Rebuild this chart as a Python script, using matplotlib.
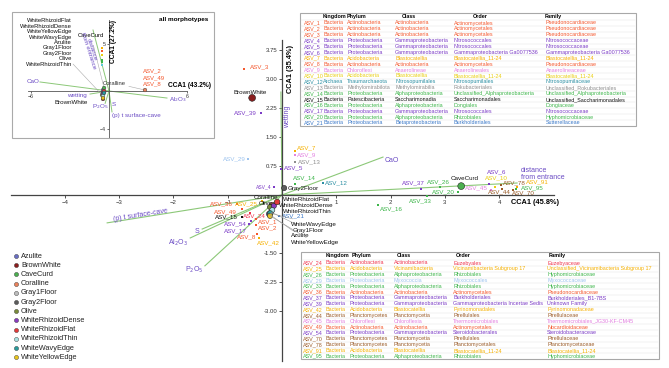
import matplotlib
matplotlib.use("Agg")
import matplotlib.pyplot as plt
from matplotlib.patches import Rectangle

plt.rcParams['font.family'] = ['Liberation Sans', 'DejaVu Sans']

W, H = 669, 368

# taxon colours
ACT = '#F4582E'   # Actinomycetales
EUZ = '#F0344E'   # Euzebyales
GAM = '#7B3BC6'   # Gammaproteobacteria
BLA = '#F5B000'   # Blastocatellia (orange-yellow)
BLY = '#E9CF10'   # Blastocatellia (yellow)
CHL = '#E27FE0'   # Chloroflexi
THA = '#2B8FA3'   # Thaumarchaeota
MET = '#8E8E8E'   # Methylomirabilota
ALP = '#3DB54A'   # Alphaproteobacteria
PAT = '#111111'   # Patescibacteria
BET = '#3A78C8'   # Betaproteobacteria
MYX = '#9DC3EE'   # Myxococcia
PLA = '#9A5B28'   # Planctomycetes
ARROW_TXT = '#6A4BC4'
ARROW_LN = '#8CC878'

# ---- main CCA (ASV scores)
asv_names = ['ASV_1', 'ASV_2', 'ASV_3', 'ASV_4', 'ASV_5', 'ASV_6', 'ASV_7', 'ASV_8', 'ASV_9',
             'ASV_10', 'ASV_12', 'ASV_13', 'ASV_14', 'ASV_15', 'ASV_16', 'ASV_17', 'ASV_20',
             'ASV_21', 'ASV_24', 'ASV_25', 'ASV_26', 'ASV_29', 'ASV_33', 'ASV_36', 'ASV_37',
             'ASV_39', 'ASV_42', 'ASV_44', 'ASV_45', 'ASV_49', 'ASV_54', 'ASV_70', 'ASV_78',
             'ASV_91', 'ASV_95']
asv_x = [-0.48, -0.48, -0.70, -0.15, -0.02, 3.81, 0.24, -0.46, 0.24,
         3.92, 0.76, 0.24, 0.24, -0.74, 1.77, -0.61, 3.24,
         -0.06, -0.59, -0.37, 2.91, -0.63, 2.67, -0.83, 2.56,
         -0.39, -0.42, 4.05, 3.85, -0.74, -0.57, 4.25, 4.03,
         4.33, 4.31]
asv_y = [-0.62, -0.78, 3.26, 0.21, 0.67, 0.28, 1.14, -1.01, 1.03,
         0.21, 0.31, 0.85, 0.28, -0.57, -0.26, -0.75, 0.08,
         -0.54, -0.47, -0.16, 0.21, 0.93, -0.03, -0.23, 0.16,
         2.12, -1.11, 0.16, 0.13, -0.36, -0.67, 0.13, 0.26,
         0.21, 0.16]
asv_cols = [ACT, ACT, ACT, GAM, GAM, GAM, BLA, ACT, CHL,
            BLY, THA, MET, ALP, PAT, ALP, GAM, ALP,
            BET, EUZ, BLA, ALP, MYX, ALP, ACT, GAM,
            GAM, BLA, PLA, CHL, ACT, GAM, PLA, PLA,
            BLA, ALP]

# ---- sites
site_names = ['Azulite', 'BrownWhite', 'CaveCurd', 'Coralline', 'Gray1Floor', 'Gray2Floor', 'Olive',
              'WhiteRhizoidDense', 'WhiteRhizoidFlat', 'WhiteRhizoidThin', 'WhiteWavyEdge',
              'WhiteYellowEdge']
site_cols = ['#6A6FC4', '#8B1E1E', '#4CAF50', '#E9825C', '#BDBDBD', '#5C5C5C', '#7A8B3A',
             '#8A3CC0', '#E23B3B', '#A9E3E3', '#2B9C9C', '#E8C51E']
site_x = [-0.24, -0.55, 3.30, -0.18, -0.20, 0.04, -0.22, -0.15, -0.09, -0.18, -0.22, -0.22]
site_y = [-0.49, 2.51, 0.23, -0.26, -0.44, 0.18, -0.31, -0.28, -0.18, -0.39, -0.47, -0.54]

# ---- environmental vectors
env_names = ['CaO', 'wetting', 'distance\nfrom entrance', '(p) t surface-cave', 'S',
             'Al$_2$O$_3$', 'P$_2$O$_5$']
env_x = [1.86, -0.02, 4.33, -3.22, -1.47, -1.69, -1.42]
env_y = [0.98, 2.66, 0.31, -0.72, -0.88, -1.11, -1.83]

# ---- inset: all morphotypes
in_site_x = [-0.46, -0.46, -0.38, 2.77, -0.38, -0.46, -0.54, -0.46, -0.38, -0.46, -0.38, -0.46]
in_site_y = [0.10, -0.84, 0.32, 0.10, -0.10, -0.21, -0.42, -0.30, 0.00, -0.52, -0.20, -0.75]
in_asv_x = [-0.54, -0.54, -0.54, -0.54, -0.54, -0.54, 2.77]
in_asv_y = [4.50, 4.20, 3.80, 3.30, 3.05, 2.75, 0.10]
in_asv_cols = [BLA, ACT, BLY, ALP, ALP, '#5BC8D8', ACT]
in_env_x = [-5.31, -1.46, -1.23, 0.23, 0.05, -0.30, 4.46]
in_env_y = [0.95, -0.32, 6.42, -2.20, -1.20, -1.30, -0.74]

# ---- taxonomy tables
top_rows = [
    ['ASV_1', 'Bacteria', 'Actinobacteria', 'Actinobacteria', 'Actinomycetales', 'Pseudonocardiaceae'],
    ['ASV_2', 'Bacteria', 'Actinobacteria', 'Actinobacteria', 'Actinomycetales', 'Pseudonocardiaceae'],
    ['ASV_3', 'Bacteria', 'Actinobacteria', 'Actinobacteria', 'Actinomycetales', 'Pseudonocardiaceae'],
    ['ASV_4', 'Bacteria', 'Proteobacteria', 'Gammaproteobacteria', 'Nitrosococcales', 'Nitrosococcaceae'],
    ['ASV_5', 'Bacteria', 'Proteobacteria', 'Gammaproteobacteria', 'Nitrosococcales', 'Nitrosococcaceae'],
    ['ASV_6', 'Bacteria', 'Proteobacteria', 'Gammaproteobacteria', 'Gammaproteobacteria Ga0077536',
     'Gammaproteobacteria Ga0077536'],
    ['ASV_7', 'Bacteria', 'Acidobacteria', 'Blastocatellia', 'Blastocatellia_11-24', 'Blastocatellia_11-24'],
    ['ASV_8', 'Bacteria', 'Actinobacteria', 'Actinobacteria', 'Actinomycetales', 'Pseudonocardiaceae'],
    ['ASV_9', 'Bacteria', 'Chloroflexi', 'Anaerolineae', 'Anaerolineales', 'Anaerolineaceae'],
    ['ASV_10', 'Bacteria', 'Acidobacteria', 'Blastocatellia', 'Blastocatellia_11-24', 'Blastocatellia_11-24'],
    ['ASV_12', 'Archaea', 'Thaumarchaeota', 'Nitrosopumilales', 'Nitrosopumilales', 'Nitrosopumilaceae'],
    ['ASV_13', 'Bacteria', 'Methylomirabilota', 'Methylomirabilia', 'Rokubacteriales',
     'Unclassified_Rokubacteriales'],
    ['ASV_14', 'Bacteria', 'Proteobacteria', 'Alphaproteobacteria', 'Unclassified_Alphaproteobacteria',
     'Unclassified_Alphaproteobacteria'],
    ['ASV_15', 'Bacteria', 'Patescibacteria', 'Saccharimonadia', 'Saccharimonadales',
     'Unclassified_Saccharimonadales'],
    ['ASV_16', 'Bacteria', 'Proteobacteria', 'Alphaproteobacteria', 'Dongiales', 'Dongiaceae'],
    ['ASV_17', 'Bacteria', 'Proteobacteria', 'Gammaproteobacteria', 'Nitrosococcales', 'Nitrosococcaceae'],
    ['ASV_20', 'Bacteria', 'Proteobacteria', 'Alphaproteobacteria', 'Rhizobiales', 'Hyphomicrobiaceae'],
    ['ASV_21', 'Bacteria', 'Proteobacteria', 'Betaproteobacteria', 'Burkholderiales', 'Sutterellaceae'],
]
top_cols = [ACT, ACT, ACT, GAM, GAM, GAM, BLA, ACT, CHL, BLY, THA, MET, ALP, PAT, ALP, GAM, ALP, BET]

bot_rows = [
    ['ASV_24', 'Bacteria', 'Actinobacteria', 'Actinobacteria', 'Euzebyales', 'Euzebyaceae'],
    ['ASV_25', 'Bacteria', 'Acidobacteria', 'Vicinamibacteria', 'Vicinamibacteria Subgroup 17',
     'Unclassified_Vicinamibacteria Subgroup 17'],
    ['ASV_26', 'Bacteria', 'Proteobacteria', 'Alphaproteobacteria', 'Rhizobiales', 'Hyphomicrobiaceae'],
    ['ASV_29', 'Bacteria', 'Proteobacteria', 'Myxococcia', 'Myxococcales', 'Myxococcaceae'],
    ['ASV_33', 'Bacteria', 'Proteobacteria', 'Alphaproteobacteria', 'Rhizobiales', 'Hyphomicrobiaceae'],
    ['ASV_36', 'Bacteria', 'Actinobacteria', 'Actinobacteria', 'Actinomycetales', 'Pseudonocardiaceae'],
    ['ASV_37', 'Bacteria', 'Proteobacteria', 'Gammaproteobacteria', 'Burkholderiales',
     'Burkholderiales_B1-7BS'],
    ['ASV_39', 'Bacteria', 'Proteobacteria', 'Gammaproteobacteria', 'Gammaproteobacteria Incertae Sedis',
     'Unknown Family'],
    ['ASV_42', 'Bacteria', 'Acidobacteria', 'Blastocatellia', 'Pyrinomonadales', 'Pyrinomonadaceae'],
    ['ASV_44', 'Bacteria', 'Planctomycetes', 'Planctomycetia', 'Pirellulales', 'Pirellulaceae'],
    ['ASV_45', 'Bacteria', 'Chloroflexi', 'Chloroflexia', 'Thermomicrobiales',
     'Thermomicrobiales_JG30-KF-CM45'],
    ['ASV_49', 'Bacteria', 'Actinobacteria', 'Actinobacteria', 'Actinomycetales', 'Nocardioidaceae'],
    ['ASV_54', 'Bacteria', 'Proteobacteria', 'Gammaproteobacteria', 'Steroidobacterales',
     'Steroidobacteraceae'],
    ['ASV_70', 'Bacteria', 'Planctomycetes', 'Planctomycetia', 'Pirellulales', 'Pirellulaceae'],
    ['ASV_78', 'Bacteria', 'Planctomycetes', 'Planctomycetia', 'Planctomycetales', 'Planctomycetaceae'],
    ['ASV_91', 'Bacteria', 'Acidobacteria', 'Blastocatellia', 'Blastocatellia_11-24', 'Blastocatellia_11-24'],
    ['ASV_95', 'Bacteria', 'Proteobacteria', 'Alphaproteobacteria', 'Rhizobiales', 'Hyphomicrobiaceae'],
]
bot_cols = [EUZ, BLA, ALP, MYX, ALP, ACT, GAM, GAM, BLA, PLA, CHL, ACT, GAM, PLA, PLA, BLA, ALP]
headers = ['Kingdom', 'Phylum', 'Class', 'Order', 'Family']

# label placement (pixels: dx, dy down, ha)
asv_lab = {
    'ASV_1': (2, 3, 'left'), 'ASV_2': (2, 3, 'left'), 'ASV_3': (6, -2, 'left'),
    'ASV_4': (-2, 0, 'right'), 'ASV_5': (3, -1, 'left'), 'ASV_6': (-2, -12, 'left'),
    'ASV_7': (2, -3, 'left'), 'ASV_8': (-1, 3, 'right'), 'ASV_9': (2, 0, 'left'),
    'ASV_10': (-10, -9, 'left'), 'ASV_12': (2, 0, 'left'), 'ASV_13': (3, 0, 'left'),
    'ASV_14': (-2, -6, 'left'), 'ASV_15': (-4, 0, 'right'), 'ASV_16': (2, 4, 'left'),
    'ASV_17': (-2, 7, 'right'), 'ASV_20': (-3, 0, 'right'), 'ASV_21': (3, 0, 'left'),
    'ASV_24': (-7, 3, 'left'), 'ASV_25': (-4, 3, 'right'), 'ASV_26': (-13, -5, 'left'),
    'ASV_29': (-2, 0, 'right'), 'ASV_33': (-18, 5, 'left'), 'ASV_36': (-4, 0, 'right'),
    'ASV_37': (-19, -6, 'left'), 'ASV_39': (-4, 0, 'right'), 'ASV_42': (-2, 5, 'left'),
    'ASV_44': (-14, 3, 'left'), 'ASV_45': (-3, -2, 'right'), 'ASV_49': (-5, 3, 'right'),
    'ASV_54': (-4, 3, 'right'), 'ASV_70': (-1, 3, 'left'), 'ASV_78': (2, -2, 'left'),
    'ASV_91': (9, -5, 'left'), 'ASV_95': (5, -1, 'left'),
}
site_lab = {
    'Azulite': (22, 22, 'left', True), 'BrownWhite': (-2, -5, 'center', False),
    'CaveCurd': (3, -8, 'center', False), 'Coralline': (6, -8, 'right', False),
    'Gray1Floor': (21, 18, 'left', True), 'Gray2Floor': (3, 0, 'left', False),
    'Olive': (3, -3, 'right', False), 'WhiteRhizoidDense': (5, 0, 'left', False),
    'WhiteRhizoidFlat': (6, -2, 'left', False), 'WhiteRhizoidThin': (11, 1, 'left', False),
    'WhiteWavyEdge': (21, 11, 'left', True), 'WhiteYellowEdge': (21, 27, 'left', True),
}

fig = plt.figure(figsize=(W / 100, H / 100), dpi=100)

# ------------------------------------------------------------ main biplot
ax = fig.add_axes([0, 0, 1, 1])
ax.set_xlim(-282 / 54.3, (W - 282) / 54.3)
ax.set_ylim((195 - H) / 38.7, 195 / 38.7)
ax.patch.set_alpha(0)
for s in ['top', 'right']:
    ax.spines[s].set_visible(False)
ax.spines['left'].set_position(('data', 0))
ax.spines['bottom'].set_position(('data', 0))
ax.spines['bottom'].set_bounds(-5.0, 5.0)
ax.spines['left'].set_bounds(-4.3, 4.0)
for s in ['left', 'bottom']:
    ax.spines[s].set_color('#444444')
    ax.spines[s].set_linewidth(0.9)
ax.set_xticks([-4, -3, -2, -1, 1, 2, 3, 4])
ax.set_yticks([3.75, 3.0, 2.25, 1.5, 0.75, -1.5, -2.25, -3.0])
ax.set_yticklabels(['%.2f' % v for v in [3.75, 3.0, 2.25, 1.5, 0.75, -1.5, -2.25, -3.0]])
ax.tick_params(labelsize=4.3, length=2, width=0.6, pad=1.5, colors='#333333')

for ex, ey in zip(env_x, env_y):
    ax.plot([0, ex], [0, ey], color=ARROW_LN, lw=0.8, zorder=2)
env_lab = [(2, 3, 'left', 0), (7, 25, 'center', 90), (4, -9, 'left', 0),
           (33, -8, 'center', 9), (-3, 2, 'right', 0), (-2, 5, 'right', 0), (-2, 4, 'right', 0)]
for n, ex, ey, (dx, dy, ha, rot) in zip(env_names, env_x, env_y, env_lab):
    ax.annotate(n, (ex, ey), xytext=(dx * 0.72, -dy * 0.72), textcoords='offset points',
                ha=ha, va='center', rotation=rot, fontsize=5, color=ARROW_TXT,
                linespacing=0.85, zorder=5)

ax.scatter(asv_x, asv_y, s=3, c=asv_cols, marker='s', linewidths=0, zorder=4)
for n, x, y, c in zip(asv_names, asv_x, asv_y, asv_cols):
    dx, dy, ha = asv_lab[n]
    ax.annotate(n, (x, y), xytext=(dx * 0.72, -dy * 0.72), textcoords='offset points',
                ha=ha, va='center', fontsize=3.6 if n == 'ASV_4' else 4.5, color=c, zorder=5)

ax.scatter(site_x, site_y, s=[14, 24, 24, 16, 14, 14, 14, 14, 16, 14, 14, 14],
           c=site_cols, edgecolors='#222222', linewidths=0.4, zorder=6)
for n, x, y in zip(site_names, site_x, site_y):
    dx, dy, ha, lead = site_lab[n]
    ax.annotate(n, (x, y), xytext=(dx * 0.72, -dy * 0.72), textcoords='offset points',
                ha=ha, va='center', fontsize=4.5, color='#111111', zorder=7,
                arrowprops=dict(arrowstyle='-', color='#999999', lw=0.4, shrinkA=0, shrinkB=0)
                if lead else None)

ax.text(4.66, -0.2, 'CCA1 (45.8%)', fontsize=5.3, fontweight='bold', ha='center', va='center')
ax.text(0.15, 3.25, 'CCA1 (35.4%)', fontsize=5.3, fontweight='bold', ha='center', va='center',
        rotation=90)

# ------------------------------------------------------------ overlay: tables + legend
lay = fig.add_axes([0, 0, 1, 1])
lay.set_xlim(0, W)
lay.set_ylim(H, 0)
lay.axis('off')
lay.patch.set_alpha(0)


def draw_table(rows, cols, box, head_y, head_x, row_y0, row_dy, col_x):
    x0, y0, x1, y1 = box
    lay.add_patch(Rectangle((x0, y0), x1 - x0, y1 - y0, facecolor='white', edgecolor='#A8A8A8',
                            lw=0.8, zorder=8))
    for hx, h in zip(head_x, headers):
        lay.text(hx, head_y, h, fontsize=3.9, fontweight='bold', va='center', ha='left', zorder=9)
    for i, (r, c) in enumerate(zip(rows, cols)):
        yy = row_y0 + i * row_dy
        lay.plot([x0 + 1, x1 - 1], [yy - row_dy / 2, yy - row_dy / 2], color='#E4E4E4', lw=0.35,
                 zorder=8.5)
        for cx, t in zip(col_x, r):
            lay.text(cx, yy, t, fontsize=3.9, color=c, va='center', ha='left', zorder=9)


draw_table(top_rows, top_cols, (300, 13, 636, 126), 16.5, [323, 347, 402, 473, 545],
           23, 5.88, [304, 323, 347, 395, 454, 546])
draw_table(bot_rows, bot_cols, (301, 252, 659, 359), 255.5, [326, 352, 397, 456, 549],
           263, 5.83, [303, 326, 350, 394, 453, 547])

for i, (n, c) in enumerate(zip(site_names, site_cols)):
    yy = 256 + i * 9.2
    lay.scatter([16], [yy], s=9, c=c, edgecolors='#333333', linewidths=0.3, zorder=9)
    lay.text(21, yy, n, fontsize=5.3, va='center', ha='left', color='#222222', zorder=9)

# ------------------------------------------------------------ inset
ins = fig.add_axes([12 / W, 1 - 138 / H, 202 / W, 126 / H])
ins.set_xlim((12 - 109) / 13, (214 - 109) / 13)
ins.set_ylim((91 - 138) / 9.5, (91 - 12) / 9.5)
ins.set_facecolor('white')
for s in ['top', 'right']:
    ins.spines[s].set_visible(False)
ins.spines['left'].set_position(('data', 0))
ins.spines['bottom'].set_position(('data', 0))
ins.spines['bottom'].set_bounds(-6.2, 6.0)
ins.spines['left'].set_bounds(-4.9, 7.5)
for s in ['left', 'bottom']:
    ins.spines[s].set_color('#555555')
    ins.spines[s].set_linewidth(0.6)
ins.set_xticks([-6, 6])
ins.set_yticks([5, -4])
ins.tick_params(labelsize=3.8, length=1.5, width=0.5, pad=1, colors='#333333')
ins.add_patch(Rectangle((0, 0), 1, 1, transform=ins.transAxes, fill=False, edgecolor='#AAAAAA',
                        lw=0.8, clip_on=False, zorder=10))

for ex, ey in zip(in_env_x, in_env_y):
    ins.plot([0, ex], [0, ey], color=ARROW_LN, lw=0.7, zorder=2)
in_env_names = ['CaO', 'wetting', 'distance\nfrom entrance', '(p) t surface-cave', 'S',
                'P$_2$O$_5$', 'Al$_2$O$_3$']
in_env_lab = [(-1, 0, 'right', 0), (-3, 1, 'right', 0), (-3, 20, 'center', -72),
              (0, 4, 'left', 0), (2, 2, 'left', 0), (-5, 3, 'center', 0), (2, 2, 'left', 0)]
for n, ex, ey, (dx, dy, ha, rot) in zip(in_env_names, in_env_x, in_env_y, in_env_lab):
    ins.annotate(n, (ex, ey), xytext=(dx * 0.72, -dy * 0.72), textcoords='offset points',
                 ha=ha, va='center', rotation=rot, fontsize=4.5, color=ARROW_TXT,
                 linespacing=0.85, zorder=5)

ins.scatter(in_asv_x, in_asv_y, s=2, c=in_asv_cols, marker='s', linewidths=0, zorder=4)
ins.scatter(in_site_x, in_site_y, s=7, c=site_cols, edgecolors='#333333', linewidths=0.3, zorder=6)

for k, n in enumerate(['ASV_2', 'ASV_49', 'ASV_8']):
    ins.annotate(n, (in_asv_x[-1], in_asv_y[-1]), xytext=(-1.5, (19 - 6.5 * k) * 0.72),
                 textcoords='offset points', ha='left', va='center', fontsize=4.3, color=ACT)

in_lab_order = ['WhiteRhizoidFlat', 'WhiteRhizoidDense', 'WhiteYellowEdge', 'WhiteWavyEdge',
                'Azulite', 'Gray1Floor', 'Gray2Floor', 'Olive', 'WhiteRhizoidThin']
for k, n in enumerate(in_lab_order):
    yy = (91 - (21 + k * 5.4)) / 9.5
    ins.text((72 - 109) / 13, yy, n, fontsize=4.2, ha='right', va='center', color='#111111')
i_thin = site_names.index('WhiteRhizoidThin')
ins.annotate('', (in_site_x[i_thin], in_site_y[i_thin]),
             xytext=((73 - 109) / 13, (91 - 64) / 9.5),
             arrowprops=dict(arrowstyle='-', color='#AAAAAA', lw=0.4, shrinkA=0, shrinkB=0))
i_cc = site_names.index('CaveCurd')
ins.annotate('CaveCurd', (in_site_x[i_cc], in_site_y[i_cc]), xytext=(-13 * 0.72, 52 * 0.72),
             textcoords='offset points', fontsize=4.2, ha='center', va='center',
             arrowprops=dict(arrowstyle='-', color='#AAAAAA', lw=0.4, shrinkA=3, shrinkB=0))
i_cor = site_names.index('Coralline')
ins.annotate('Coralline', (in_site_x[i_cor], in_site_y[i_cor]), xytext=(-19 * 0.72, 7 * 0.72),
             textcoords='offset points', fontsize=4.2, ha='right', va='center', color='#333333',
             arrowprops=dict(arrowstyle='-', color='#AAAAAA', lw=0.4, shrinkA=0, shrinkB=0))
i_bw = site_names.index('BrownWhite')
ins.annotate('BrownWhite', (in_site_x[i_bw], in_site_y[i_bw]), xytext=(-15 * 0.72, -4 * 0.72),
             textcoords='offset points', fontsize=4.5, ha='right', va='center', color='#111111')

ins.text(0.97, 0.94, 'all morphotypes', transform=ins.transAxes, fontsize=4.6, fontweight='bold',
         ha='right', va='center')
ins.text(6.2, 0.63, 'CCA1 (43.2%)', fontsize=4.8, fontweight='bold', ha='center', va='center')
ins.text(0.35, 5.2, 'CCA1 (27.2%)', fontsize=4.8, fontweight='bold', ha='center', va='center',
         rotation=90)

fig.savefig('out.png', dpi=100)
